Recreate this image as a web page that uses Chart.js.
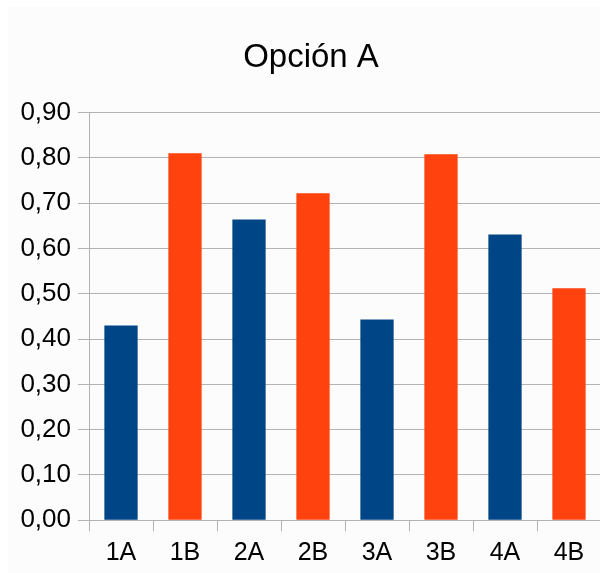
<!DOCTYPE html>
<html>
<head>
<meta charset="utf-8">
<script src="https://cdn.jsdelivr.net/npm/chart.js@4"></script>
<style>
  html, body { margin: 0; padding: 0; background: #ffffff; overflow: hidden; }
  #wrap { width: 622px; height: 573px; }
</style>
</head>
<body>
<div id="wrap"><canvas id="c" width="622" height="573"></canvas></div>
<script>
const titleText = "Opción A";
const categories = ["1A", "1B", "2A", "2B", "3A", "3B", "4A", "4B"];
const values = [0.43, 0.81, 0.664, 0.722, 0.443, 0.808, 0.631, 0.512];
const barColors = ["#004586", "#ff420e", "#004586", "#ff420e", "#004586", "#ff420e", "#004586", "#ff420e"];
const yMin = 0;
const yMax = 0.9;
const yStep = 0.1;

const bgPlugin = {
  id: 'bg',
  beforeDraw(chart) {
    const ctx = chart.ctx;
    ctx.save();
    ctx.fillStyle = '#ffffff';
    ctx.fillRect(0, 0, chart.width, chart.height);
    ctx.fillStyle = '#fcfcfc';
    ctx.fillRect(8, 7, chart.width - 8, chart.height - 7);
    ctx.restore();
  }
};

new Chart(document.getElementById('c'), {
  type: 'bar',
  data: {
    labels: categories,
    datasets: [{
      data: values,
      backgroundColor: barColors,
      borderWidth: 0,
      categoryPercentage: 1.0,
      barPercentage: 0.52
    }]
  },
  options: {
    responsive: false,
    animation: false,
    devicePixelRatio: 1,
    layout: { padding: 0 },
    plugins: {
      legend: { display: false },
      tooltip: { enabled: false },
      title: {
        display: true,
        text: titleText,
        color: '#000000',
        font: { family: 'Liberation Sans', size: 33, weight: 'normal', lineHeight: 1.2 },
        padding: { top: 38, bottom: 35 }
      }
    },
    scales: {
      x: {
        offset: true,
        grid: {
          offset: true,
          drawOnChartArea: false,
          drawTicks: true,
          tickLength: 11,
          color: '#b3b3b3'
        },
        border: { color: '#b3b3b3' },
        ticks: {
          color: '#000000',
          font: { family: 'Liberation Sans', size: 25 },
          padding: 7,
          maxRotation: 0,
          autoSkip: false
        },
        afterFit(scale) { scale.height = 52.7; }
      },
      y: {
        min: yMin,
        max: yMax,
        grid: {
          color: '#b3b3b3',
          tickLength: 11,
          drawTicks: true
        },
        border: { color: '#b3b3b3' },
        ticks: {
          stepSize: yStep,
          color: '#000000',
          font: { family: 'Liberation Sans', size: 26 },
          padding: 7,
          callback: (v) => Number(v).toFixed(2).replace('.', ',')
        },
        afterFit(scale) { scale.width = 89; }
      },
      yRightSpace: {
        position: 'right',
        min: yMin,
        max: yMax,
        grid: { display: false, drawTicks: false },
        border: { display: false },
        ticks: { display: false },
        afterFit(scale) { scale.width = 21; }
      }
    }
  },
  plugins: [bgPlugin]
});
</script>
</body>
</html>
